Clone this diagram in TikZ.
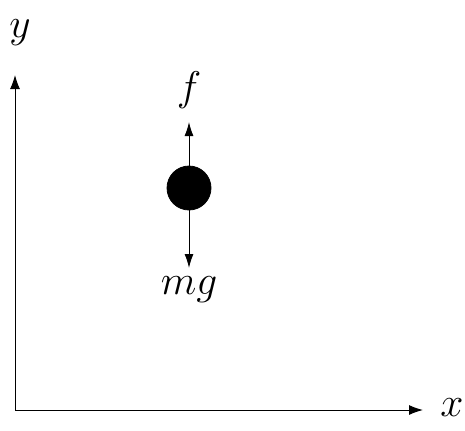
\documentclass[tikz,border=0pt]{standalone}
\usepackage{tikz}
\usetikzlibrary{arrows.meta}
\usetikzlibrary{positioning}
\tikzstyle{ball}=[circle,fill=black,draw=black,minimum size=22pt,inner sep=0pt]
\tikzstyle{axis} = [draw,line width=0.5pt,-{Latex[length=7pt,width=5pt]}]
\tikzstyle{force} = [draw,line width=0.5pt,-{Latex[length=7pt,width=4.5pt]}]
\tikzstyle{lbl} = [font=\fontsize{22}{26}\selectfont,inner sep=0pt]

\begin{document}
\begin{tikzpicture}[x=0.5pt,y=-0.5pt]
 \useasboundingbox (0,0) rectangle (465,430);

 %axes
 \coordinate (O) at (15,410);
 \coordinate (ytip) at (15,75);
 \coordinate (xtip) at (423,410);
 \path[axis] (O) -- (ytip);
 \path[axis] (O) -- (xtip);
 \node[lbl] (ylabel) at (20,33) {$y$};
 \node[lbl] (xlabel) at (452,408) {$x$};

 %ball and forces
 \node[ball] (ball) at (189,188) {};
 \coordinate (ftip) at (189,122);
 \coordinate (mgtip) at (189,268);
 \foreach \source/\dest in {ball.north/ftip, ball.south/mgtip}
        \path[force] (\source) -- (\dest);

 \node[lbl] (flabel) at (189,90) {$f$};
 \node[lbl] (mglabel) at (189,290) {$mg$};

\end{tikzpicture}
\end{document}
